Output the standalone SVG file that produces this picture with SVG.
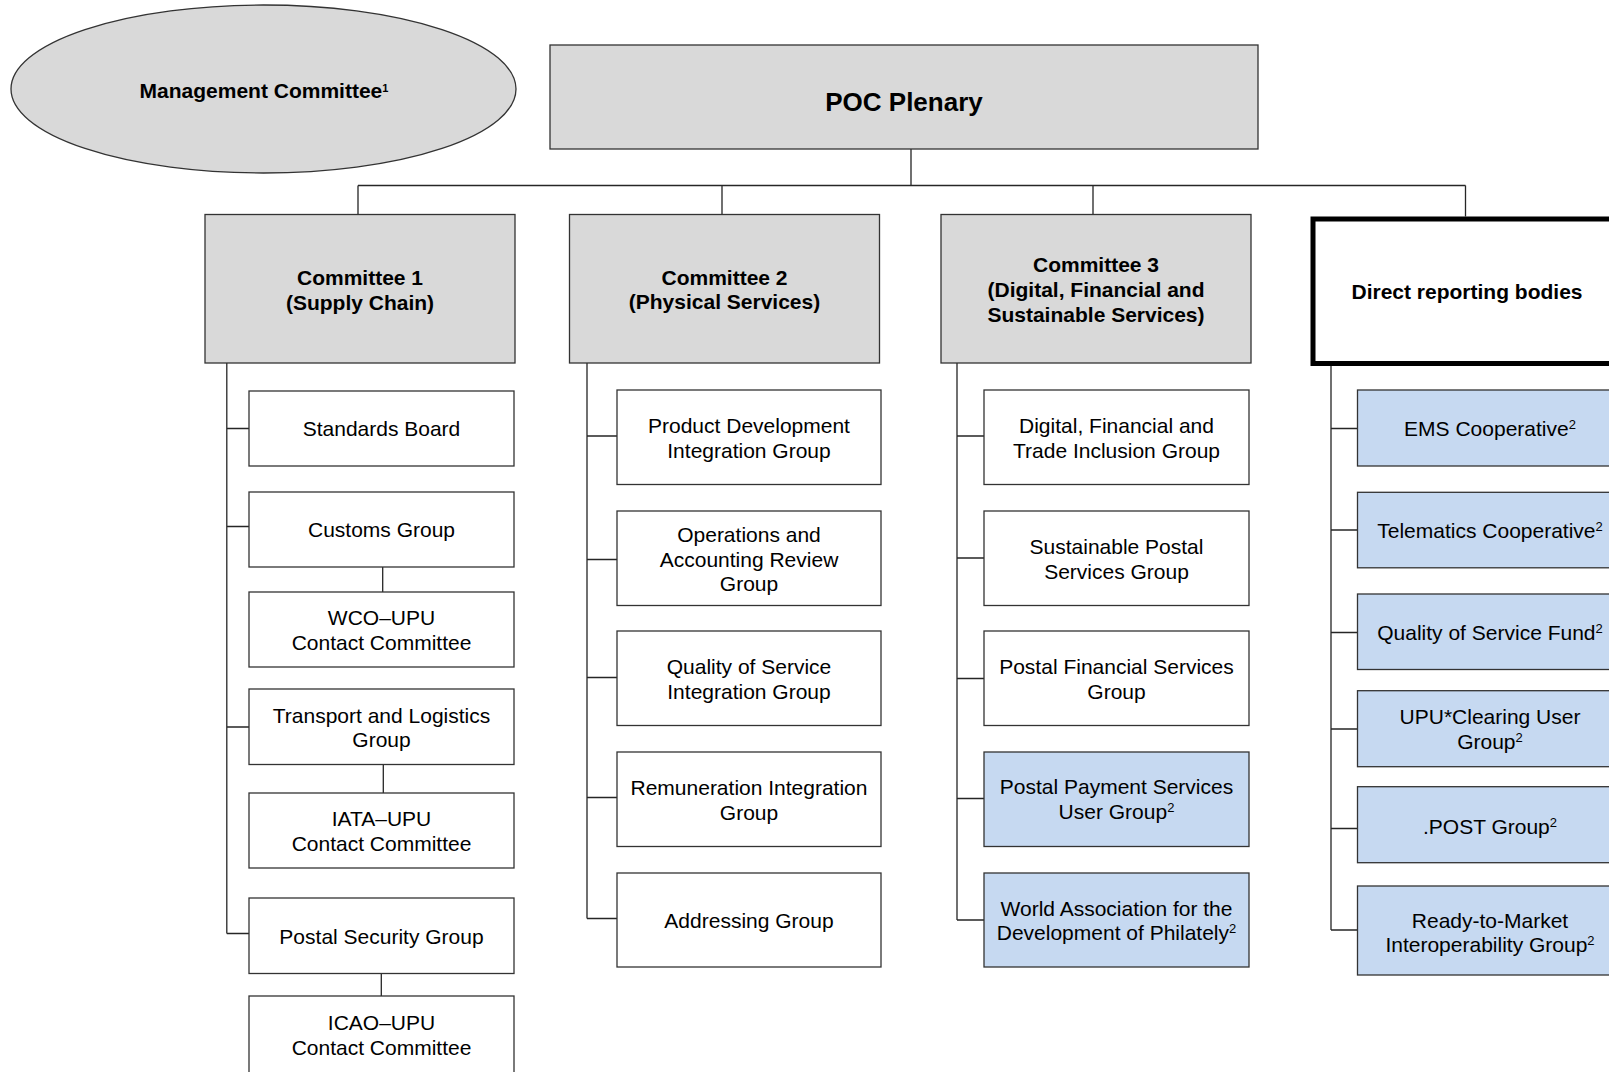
<svg xmlns="http://www.w3.org/2000/svg" width="1609" height="1072" viewBox="0 0 1609 1072">
<style>
text{font-family:"Liberation Sans",Arial,sans-serif;fill:#000;text-anchor:middle}
.b{font-weight:bold;font-size:21px}
.r{font-size:21px}
.g{fill:#D9D9D9;stroke:#333;stroke-width:1.3}
.w{fill:#fff;stroke:#333;stroke-width:1.3}
.u{fill:#C6D9F1;stroke:#333;stroke-width:1.3}
.c{fill:none;stroke:#262626;stroke-width:1.3}
.s{font-size:13px}
</style>
<rect width="1609" height="1072" fill="#fff"/>
<g id="connectors">
<path class="c" d="M911,149V185.5M358,185.5H1465.5M358,185.5V214.5M722,185.5V214.5M1093,185.5V214.5M1465.5,185.5V216.5"/>
<path class="c" d="M226.8,363V933.5M226.8,428.5H249M226.8,526.5H249M226.8,727H249M226.8,933.5H249M382.7,567V592M383.3,764.5V793M381.3,973.5V996"/>
<path class="c" d="M587,363V918.5M587,436H617M587,559.5H617M587,677.5H617M587,797.5H617M587,918.5H617"/>
<path class="c" d="M957,363V920M957,436H984M957,558H984M957,678.5H984M957,798.5H984M957,920H984"/>
<path class="c" d="M1331,366V930M1331,428.5H1357.5M1331,530H1357.5M1331,632.5H1357.5M1331,729H1357.5M1331,828.5H1357.5M1331,930H1357.5"/>
</g>
<g id="management"><ellipse class="g" cx="263.5" cy="89" rx="252.5" ry="84"/><text class="b" x="264" y="97.5">Management Committee<tspan font-size="11" dy="-6">1</tspan></text></g>
<g id="poc"><rect class="g" x="550" y="45" width="708" height="104"/><text x="904" y="111.3" font-size="26" font-weight="bold">POC Plenary</text></g>
<g id="c1"><rect class="g" x="205" y="214.5" width="310" height="148.5"/><text class="b" x="360" y="284.5">Committee 1</text><text class="b" x="360" y="310">(Supply Chain)</text></g>
<g id="c2"><rect class="g" x="569.5" y="214.5" width="310" height="148.5"/><text class="b" x="724.5" y="284.5">Committee 2</text><text class="b" x="724.5" y="309">(Physical Services)</text></g>
<g id="c3"><rect class="g" x="941" y="214.5" width="310" height="148.5"/><text class="b" x="1096" y="272">Committee 3</text><text class="b" x="1096" y="297">(Digital, Financial and</text><text class="b" x="1096" y="321.5">Sustainable Services)</text></g>
<g id="drb"><rect x="1313" y="219" width="308" height="144.5" fill="#fff" stroke="#000" stroke-width="5"/><text class="b" x="1467" y="299">Direct reporting bodies</text></g>
<g id="standards"><rect class="w" x="249" y="391" width="265" height="75"/><text class="r" x="381.5" y="436">Standards Board</text></g>
<g id="customs"><rect class="w" x="249" y="492" width="265" height="75"/><text class="r" x="381.5" y="537">Customs Group</text></g>
<g id="wco"><rect class="w" x="249" y="592" width="265" height="75"/><text class="r" x="381.5" y="624.5">WCO–UPU</text><text class="r" x="381.5" y="649.5">Contact Committee</text></g>
<g id="transport"><rect class="w" x="249" y="689" width="265" height="75.5"/><text class="r" x="381.5" y="722.5">Transport and Logistics</text><text class="r" x="381.5" y="747">Group</text></g>
<g id="iata"><rect class="w" x="249" y="793" width="265" height="75"/><text class="r" x="381.5" y="825.5">IATA–UPU</text><text class="r" x="381.5" y="850.5">Contact Committee</text></g>
<g id="security"><rect class="w" x="249" y="898" width="265" height="75.5"/><text class="r" x="381.5" y="943.5">Postal Security Group</text></g>
<g id="icao"><rect class="w" x="249" y="996" width="265" height="82"/><text class="r" x="381.5" y="1029.5">ICAO–UPU</text><text class="r" x="381.5" y="1054.5">Contact Committee</text></g>
<g id="productdev"><rect class="w" x="617" y="390" width="264" height="94.5"/><text class="r" x="749" y="432.5">Product Development</text><text class="r" x="749" y="457.5">Integration Group</text></g>
<g id="operations"><rect class="w" x="617" y="511" width="264" height="94.5"/><text class="r" x="749" y="542">Operations and</text><text class="r" x="749" y="566.5">Accounting Review</text><text class="r" x="749" y="591">Group</text></g>
<g id="qosig"><rect class="w" x="617" y="631" width="264" height="94.5"/><text class="r" x="749" y="674">Quality of Service</text><text class="r" x="749" y="699">Integration Group</text></g>
<g id="remuneration"><rect class="w" x="617" y="752" width="264" height="94.5"/><text class="r" x="749" y="795">Remuneration Integration</text><text class="r" x="749" y="819.5">Group</text></g>
<g id="addressing"><rect class="w" x="617" y="873" width="264" height="94"/><text class="r" x="749" y="927.5">Addressing Group</text></g>
<g id="digital"><rect class="w" x="984" y="390" width="265" height="94.5"/><text class="r" x="1116.5" y="432.5">Digital, Financial and</text><text class="r" x="1116.5" y="457.5">Trade Inclusion Group</text></g>
<g id="sustainable"><rect class="w" x="984" y="511" width="265" height="94.5"/><text class="r" x="1116.5" y="553.5">Sustainable Postal</text><text class="r" x="1116.5" y="579">Services Group</text></g>
<g id="pfs"><rect class="w" x="984" y="631" width="265" height="94.5"/><text class="r" x="1116.5" y="673.5">Postal Financial Services</text><text class="r" x="1116.5" y="699">Group</text></g>
<g id="ppsug"><rect class="u" x="984" y="752" width="265" height="94.5"/><text class="r" x="1116.5" y="793.5">Postal Payment Services</text><text class="r" x="1116.5" y="819">User Group<tspan class="s" dy="-7">2</tspan></text></g>
<g id="wadp"><rect class="u" x="984" y="873" width="265" height="94"/><text class="r" x="1116.5" y="915.5">World Association for the</text><text class="r" x="1116.5" y="940">Development of Philately<tspan class="s" dy="-7">2</tspan></text></g>
<g id="ems"><rect class="u" x="1357.5" y="390" width="265" height="76"/><text class="r" x="1490" y="435.5">EMS Cooperative<tspan class="s" dy="-7">2</tspan></text></g>
<g id="telematics"><rect class="u" x="1357.5" y="492.3" width="265" height="75.5"/><text class="r" x="1490" y="537.5">Telematics Cooperative<tspan class="s" dy="-7">2</tspan></text></g>
<g id="qosfund"><rect class="u" x="1357.5" y="594" width="265" height="75.5"/><text class="r" x="1490" y="639.5">Quality of Service Fund<tspan class="s" dy="-7">2</tspan></text></g>
<g id="clearing"><rect class="u" x="1357.5" y="690.7" width="265" height="76"/><text class="r" x="1490" y="724">UPU*Clearing User</text><text class="r" x="1490" y="749">Group<tspan class="s" dy="-7">2</tspan></text></g>
<g id="post"><rect class="u" x="1357.5" y="786.7" width="265" height="76"/><text class="r" x="1490" y="833.5">.POST Group<tspan class="s" dy="-7">2</tspan></text></g>
<g id="rtm"><rect class="u" x="1357.5" y="886" width="265" height="89"/><text class="r" x="1490" y="927.5">Ready-to-Market</text><text class="r" x="1490" y="951.5">Interoperability Group<tspan class="s" dy="-7">2</tspan></text></g>
</svg>
